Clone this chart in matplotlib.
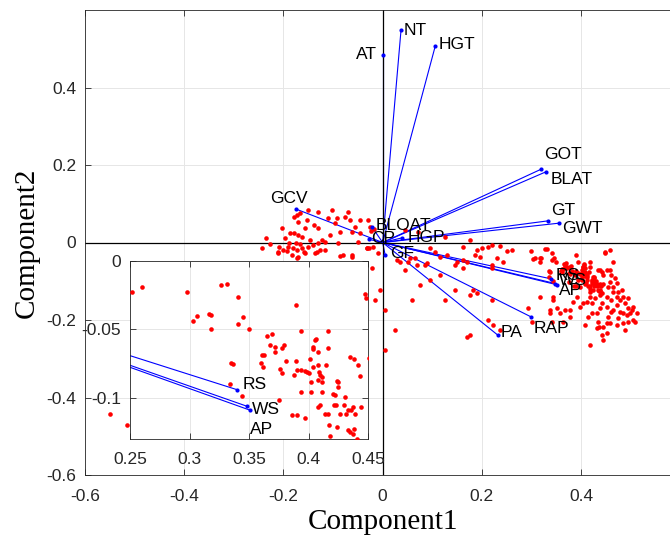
import matplotlib.pyplot as plt
import numpy as np

plt.rcParams['font.family'] = ['Liberation Sans', 'DejaVu Sans']

# loadings (vector tips)
var_names = ['NT', 'HGT', 'AT', 'GOT', 'BLAT', 'GT', 'GWT', 'RS', 'WS', 'AP',
             'RAP', 'PA', 'GCV', 'BLOAT', 'CP', 'HGP', 'GF']
coef_x = [0.037, 0.106, 0.000, 0.319, 0.330, 0.334, 0.356, 0.340, 0.348, 0.351,
          0.299, 0.232, -0.174, -0.022, -0.027, 0.039, 0.005]
coef_y = [0.548, 0.507, 0.484, 0.189, 0.183, 0.056, 0.050, -0.094, -0.106, -0.109,
          -0.192, -0.239, 0.086, 0.041, 0.008, 0.012, -0.032]
# label offsets in pixels
lab_dx = [3, 3, -6, 3, 4, 3, 3, 4, 4, 2, 3, 3, -7, 4, 2, 6, 5]
lab_dy = [0, 2, 0, 15, -8, 10, -5, 3, 3, -6, -12, 3, 11, 1, 1, 0, 1]
lab_ha = ['left', 'left', 'right', 'left', 'left', 'left', 'left', 'left', 'left', 'left',
          'left', 'left', 'center', 'left', 'left', 'left', 'left']
# labels repeated in the zoomed inset
inset_names = ['RS', 'WS', 'AP']
inset_dx = [6, 5, 0]
inset_dy = [5, -3, -19]

# scores
score_x = [
    -0.178, -0.172, -0.170, -0.152, -0.138, -0.156, -0.186, -0.178, -0.170, -0.162, -0.197, -0.209,
    -0.191, -0.180, -0.172, -0.162, -0.150, -0.140, -0.130, -0.122, -0.116, -0.110, -0.096, -0.076,
    -0.066, -0.086, -0.062, -0.056, -0.090, -0.080, -0.062, -0.031, -0.019, -0.211, -0.182, -0.170,
    -0.136, -0.156, -0.102, -0.092, -0.116, -0.126, -0.174, -0.166, -0.146, -0.158, -0.188, -0.200,
    -0.227, -0.235, -0.243, -0.203, -0.166, -0.130, -0.106, -0.210, -0.192, -0.172, -0.132, -0.086,
    -0.062, -0.150, -0.130, -0.070, -0.046,
    -0.030, -0.025, -0.023, -0.017, -0.032, -0.027, -0.009, -0.046, -0.049, 0.028, 0.051,
    0.035, 0.045, 0.065, 0.085, 0.095, 0.116, 0.146, 0.146, 0.059, 0.005, 0.025, 0.095, 0.106,
    0.116, 0.130, 0.150, 0.162, 0.089, 0.069, 0.055, 0.045, 0.071, 0.126, 0.176, 0.075, 0.176, 0.126,
    0.162, 0.190, 0.200, 0.212, 0.220, 0.236, 0.196, 0.186, 0.230, 0.170, 0.220, 0.220, 0.242,
    0.162, 0.182, 0.190, 0.220, 0.222, 0.170, 0.317, 0.343, 0.337, 0.377, 0.363, 0.293, 0.301,
    0.337, 0.341,
    0.451, 0.461, 0.418, 0.412, 0.422, 0.428, 0.438, 0.451, 0.461, 0.441, 0.438, 0.451, 0.464,
    0.472, 0.478, 0.484, 0.492, 0.498, 0.504, 0.508, 0.494, 0.484, 0.472, 0.458, 0.444, 0.452,
    0.442, 0.436, 0.454, 0.432, 0.422, 0.414, 0.404, 0.398, 0.392, 0.384, 0.377, 0.367, 0.357,
    0.351, 0.343, 0.454, 0.464, 0.472, 0.478, 0.488, 0.494, 0.502, 0.461, 0.458, 0.472, 0.464,
    0.474, 0.484, 0.494, 0.504, 0.512, 0.452, 0.434, 0.432, 0.444, 0.458, 0.468, 0.482, 0.418,
    0.488, 0.474, 0.408, 0.458, 0.465,
    -0.515, -0.549, -0.015, -0.021, -0.005, 0.005, 0.176, 0.212, 0.236,
    0.2514, 0.2600, 0.2983, 0.3031, 0.3064, 0.3160, 0.3183, 0.3178, 0.3261, 0.3319, 0.3408, 0.3450,
    0.3408, 0.3500, 0.3347, 0.3367, 0.3342, 0.3439, 0.3650, 0.3690, 0.3610, 0.3630, 0.3597, 0.3617,
    0.3680, 0.3720, 0.3717, 0.3778, 0.3797, 0.3758, 0.3778, 0.3811, 0.3875, 0.3897, 0.3940, 0.3894,
    0.3900, 0.3940, 0.3970, 0.3986, 0.4010, 0.4008, 0.3940, 0.4019, 0.4019, 0.4042, 0.4036, 0.4056,
    0.4060, 0.4042, 0.4078, 0.4083, 0.4089, 0.4097, 0.4111, 0.4078, 0.4117, 0.4114, 0.4167, 0.4167,
    0.4083, 0.4094, 0.4139, 0.4167, 0.4172, 0.4183, 0.4208, 0.4222, 0.4217, 0.4236, 0.4250, 0.4228,
    0.4264, 0.4236, 0.4306, 0.4300, 0.4314, 0.4333, 0.4347, 0.4383, 0.4417, 0.4433, 0.4356, 0.4375,
    0.4389, 0.4333, 0.4350, 0.4375, 0.4383, 0.4411, 0.4444, 0.4472, 0.4486, 0.4250, 0.3860, 0.3900,
    0.3970, 0.3750, 0.4150,
]
score_y = [
    0.066, 0.071, 0.053, 0.058, 0.045, 0.037, 0.025, 0.025, 0.019, 0.014, 0.012, -0.011,
    -0.011, -0.014, -0.019, -0.014, -0.011, -0.006, -0.001, 0.006, 0.001, 0.063, 0.050, 0.066,
    0.058, 0.027, 0.027, 0.040, -0.001, -0.032, -0.032, -0.014, -0.011, -0.027, -0.032, -0.037,
    -0.027, -0.027, 0.084, 0.063, -0.019, -0.019, -0.001, -0.004, 0.006, -0.025, -0.001, -0.019,
    -0.004, 0.012, -0.014, 0.037, 0.076, 0.037, 0.019, -0.024, -0.022, -0.040, -0.025, -0.035,
    -0.037, 0.084, 0.079, 0.079, 0.058,
    0.058, 0.041, 0.030, 0.035, -0.015, -0.013, -0.028, 0.024, 0.002, -0.045, -0.050,
    -0.050, -0.071, -0.040, -0.058, -0.097, -0.084, -0.058, -0.123, -0.149, -0.174, -0.226, -0.014, -0.025,
    -0.037, -0.032, -0.050, -0.045, -0.053, -0.058, -0.040, 0.032, 0.027, 0.014, 0.006, -0.110, -0.136, -0.149,
    -0.012, -0.019, -0.014, -0.012, -0.006, -0.009, -0.037, -0.032, -0.040, -0.050, -0.058, -0.066, -0.050,
    -0.066, -0.123, -0.130, -0.149, -0.213, -0.244, -0.141, -0.141, -0.174, -0.193, -0.205, -0.169, -0.205,
    -0.182, -0.205,
    -0.071, -0.084, -0.141, -0.154, -0.156, -0.143, -0.136, -0.141, -0.149, -0.156, -0.169, -0.167, -0.174,
    -0.162, -0.180, -0.182, -0.188, -0.182, -0.200, -0.205, -0.205, -0.208, -0.213, -0.208, -0.218, -0.234,
    -0.239, -0.218, -0.193, -0.182, -0.182, -0.193, -0.156, -0.167, -0.141, -0.154, -0.174, -0.174, -0.182,
    -0.169, -0.149, -0.115, -0.128, -0.141, -0.149, -0.156, -0.169, -0.174, -0.180, -0.102, -0.105, -0.115,
    -0.128, -0.141, -0.143, -0.167, -0.182, -0.208, -0.205, -0.221, -0.252, -0.071, -0.092, -0.123, -0.265,
    -0.226, -0.195, -0.213, -0.019, -0.050,
    -0.470, -0.443, -0.149, -0.066, -0.123, -0.278, -0.239, -0.200, -0.226,
    -0.0229, -0.0188, -0.0227, -0.0437, -0.0400, -0.0390, -0.0393, -0.0493, -0.0178, -0.0168, -0.0264, -0.0408,
    -0.0461, -0.0496, -0.0747, -0.0754, -0.0895, -0.0986, -0.0547, -0.0530, -0.0683, -0.0683, -0.0744, -0.0774,
    -0.0615, -0.0627, -0.0666, -0.0637, -0.0615, -0.0786, -0.0815, -0.0732, -0.0829, -0.0730, -0.0510, -0.0324,
    -0.0799, -0.0799, -0.0804, -0.0813, -0.0713, -0.0817, -0.0957, -0.0957, -0.0884, -0.0640, -0.0627, -0.0580,
    -0.0567, -0.0774, -0.0664, -0.0761, -0.0810, -0.0835, -0.0847, -0.0871, -0.0884, -0.0957, -0.0634, -0.0510,
    -0.1067, -0.1054, -0.1115, -0.1115, -0.1200, -0.1279, -0.0974, -0.0981, -0.1054, -0.0878, -0.0884, -0.1054,
    -0.1115, -0.1213, -0.0993, -0.1054, -0.1115, -0.1091, -0.0700, -0.0713, -0.0761, -0.0842, -0.1086, -0.1067,
    -0.1115, -0.1237, -0.1250, -0.1262, -0.1225, -0.1298, -0.1067, -0.0242, -0.0270, -0.0920, -0.1127, -0.1127,
    -0.1147, -0.1018, -0.0760,
]

edge = '#262626'


def draw_biplot(ax):
    for cx, cy in zip(coef_x, coef_y):
        ax.plot([0, cx], [0, cy], color='b', lw=0.8, zorder=2)
    ax.plot(score_x, score_y, 'o', color='r', ms=3.3, mew=0, zorder=3)
    ax.plot(coef_x, coef_y, 'o', color='b', ms=3.0, mew=0, zorder=4)


def style_axes(ax, padx, pady):
    ax.tick_params(direction='in', length=4, width=0.6, colors=edge, labelsize=12.5,
                   top=True, right=True)
    ax.tick_params(axis='x', pad=padx)
    ax.tick_params(axis='y', pad=pady)
    ax.grid(True, color='#e6e6e6', lw=0.7, zorder=0)
    ax.set_axisbelow(True)
    for s in ax.spines.values():
        s.set_color(edge)
        s.set_linewidth(0.6)


fig = plt.figure(figsize=(6.7, 5.44), dpi=100)
ax = fig.add_axes([84.8 / 670, 69 / 544, 595.7 / 670, 465 / 544])
ax.axhline(0, color='k', lw=0.9, zorder=2.5)
ax.axvline(0, color='k', lw=0.9, zorder=2.5)
draw_biplot(ax)
for name, cx, cy, dx, dy, ha in zip(var_names, coef_x, coef_y, lab_dx, lab_dy, lab_ha):
    ax.annotate(name, (cx, cy), xytext=(dx, dy), textcoords='offset pixels',
                ha=ha, va='center', fontsize=12.5, zorder=5)
ax.set_xlim(-0.6, 0.6)
ax.set_ylim(-0.6, 0.6)
ax.set_xticks([-0.6, -0.4, -0.2, 0, 0.2, 0.4])
ax.set_xticklabels(['-0.6', '-0.4', '-0.2', '0', '0.2', '0.4'])
ax.set_yticks([-0.6, -0.4, -0.2, 0, 0.2, 0.4])
ax.set_yticklabels(['-0.6', '-0.4', '-0.2', '0', '0.2', '0.4'])
style_axes(ax, 10, 6)
ax.set_xlabel('Component1', family='Liberation Serif', fontsize=21)
ax.set_ylabel('Component2', family='Liberation Serif', fontsize=21)
ax.xaxis.set_label_coords(0.5, -0.101)
ax.xaxis.label.set_va('center')
ax.yaxis.set_label_coords(-0.097, 0.499)
ax.yaxis.label.set_va('center')

# zoomed inset
axi = fig.add_axes([130 / 670, 105 / 544, 238 / 670, 178 / 544])
draw_biplot(axi)
for name, dx, dy in zip(inset_names, inset_dx, inset_dy):
    k = var_names.index(name)
    axi.annotate(name, (coef_x[k], coef_y[k]), xytext=(dx, dy), textcoords='offset pixels',
                 ha='left', va='center', fontsize=12.5, zorder=5)
axi.set_xlim(0.25, 0.45)
axi.set_ylim(-0.13, 0)
axi.set_xticks([0.25, 0.3, 0.35, 0.4, 0.45])
axi.set_xticklabels(['0.25', '0.3', '0.35', '0.4', '0.45'])
axi.set_yticks([-0.1, -0.05, 0])
axi.set_yticklabels(['-0.1', '-0.05', '0'])
style_axes(axi, 9, 6.5)

fig.savefig('out.png', dpi=100)
